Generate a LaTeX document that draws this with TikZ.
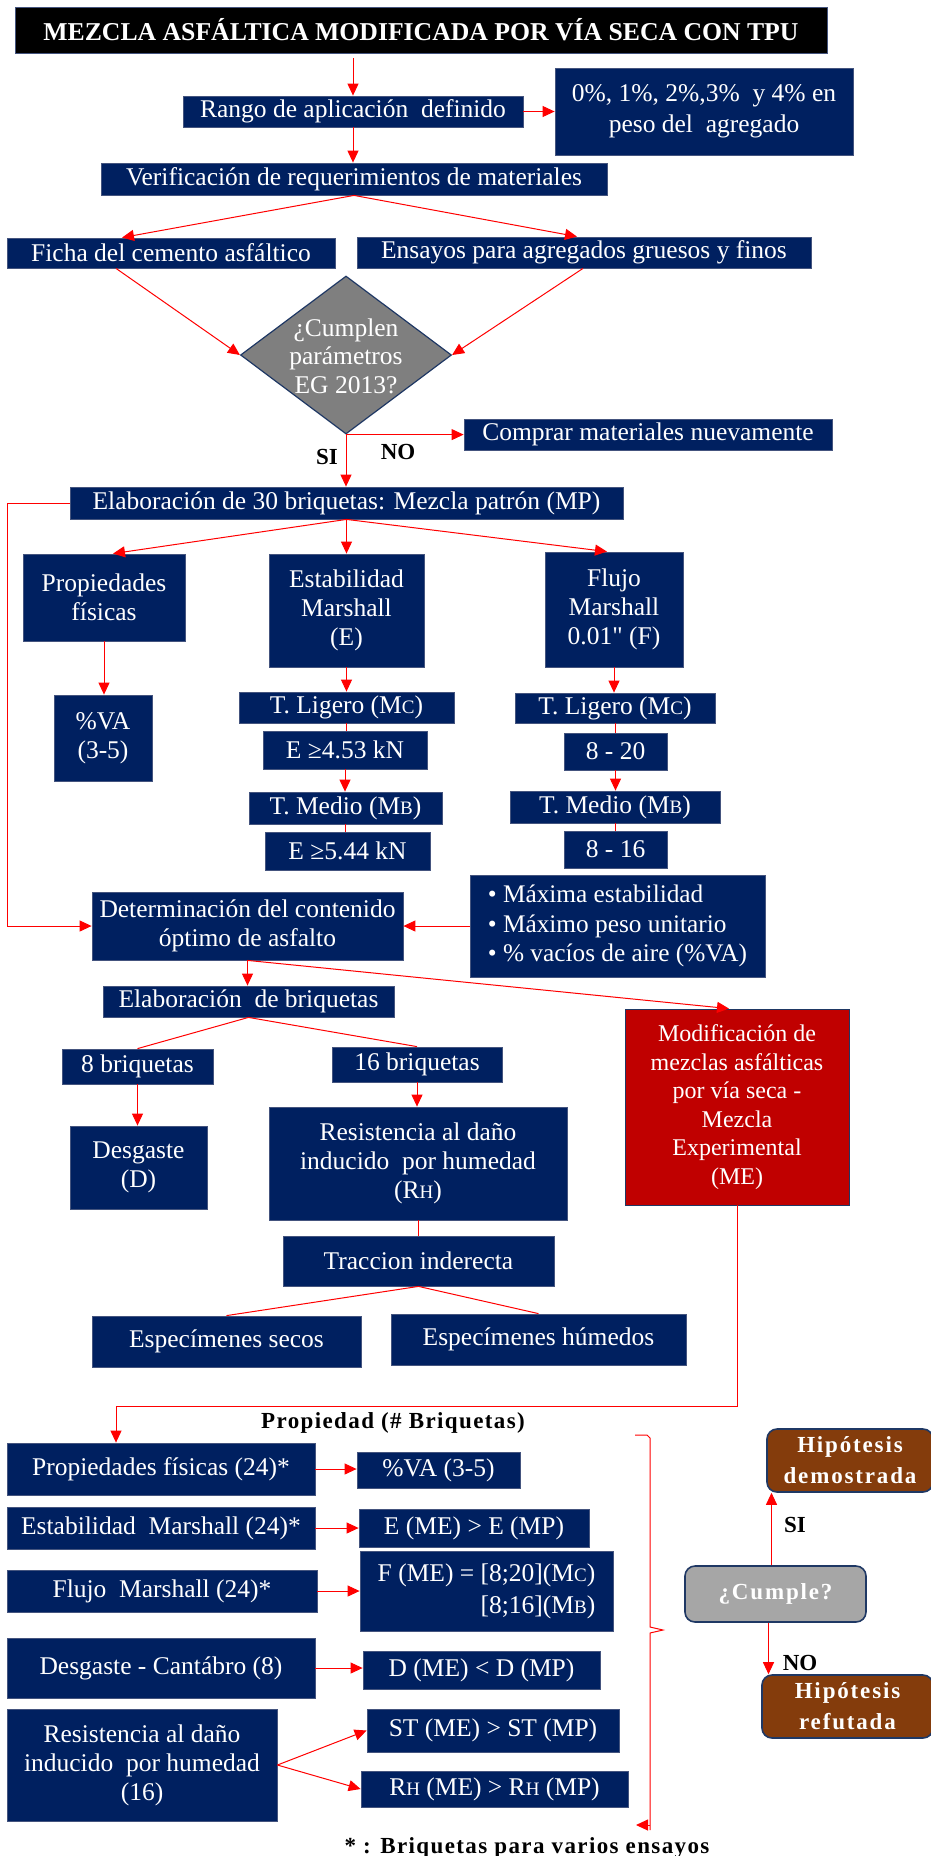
\documentclass[tikz,border=0pt]{standalone}
\usepackage{fontspec}
\setmainfont{Liberation Serif}
\usetikzlibrary{arrows.meta,shapes.geometric}
\definecolor{navy}{HTML}{002060}
\definecolor{navyedge}{HTML}{44547E}
\definecolor{darkedge}{HTML}{1F3864}
\definecolor{redbox}{HTML}{C00000}
\definecolor{brownbox}{HTML}{843C0C}
\definecolor{graybox}{HTML}{A6A6A6}
\definecolor{diagray}{HTML}{7F7F7F}
\definecolor{arrred}{HTML}{FF0000}
\newcommand{\smc}[1]{{\fontsize{19}{19}\selectfont #1}}
\begin{document}
\begin{tikzpicture}[x=1pt,y=-1pt,
  nb/.style={fill=navy,draw=navyedge,line width=0.8pt,text=white,inner sep=0pt,align=center,font=\fontsize{25.5}{29}\selectfont},
  rb/.style={fill=#1,draw=darkedge,line width=1.6pt,rounded corners=10pt,text=white,inner sep=0pt,align=center,font=\fontsize{23}{31}\selectfont\bfseries\addfontfeature{LetterSpace=8}},
  lbl/.style={font=\fontsize{23}{25}\selectfont\bfseries,inner sep=0pt},
  arr/.style={draw=arrred,line width=1pt,-{Triangle[length=12pt,width=11pt]}},
  ln/.style={draw=arrred,line width=1pt}
]
\path[clip] (0,0) rectangle (931,1856);
\fill[white] (0,0) rectangle (931,1856);

% title
\node[fill=black,draw=navyedge,text=white,inner sep=0pt,minimum width=812pt,minimum height=46pt,font=\fontsize{25.7}{28}\selectfont\bfseries] (title) at (421,30) {MEZCLA ASFÁLTICA MODIFICADA POR VÍA SECA CON TPU};

\node[nb,minimum width=340pt,minimum height=31pt] (rango) at (353,111.5) {Rango de aplicación \ definido};
\node[nb,minimum width=298pt,minimum height=87pt,font=\fontsize{25.5}{31}\selectfont] (pct) at (704,111.5) {0\%, 1\%, 2\%,3\% \ y 4\% en\\peso del \ agregado};
\node[nb,minimum width=506pt,minimum height=32pt] (verif) at (354,179) {Verificación de requerimientos de materiales};
\node[nb,minimum width=328pt,minimum height=30pt] (ficha) at (171,253) {Ficha del cemento asfáltico};
\node[nb,minimum width=454pt,minimum height=31pt] (ensayos) at (584,252.5) {Ensayos para agregados gruesos y finos};

\node[diamond,fill=diagray,draw=darkedge,line width=1.2pt,minimum width=211pt,minimum height=158pt,inner sep=0pt] (dia) at (346,355) {};
\node[text=white,align=center,inner sep=0pt,font=\fontsize{25.5}{28.5}\selectfont] (diatext) at (346,356) {¿Cumplen\\parámetros\\EG 2013?};

\node[nb,minimum width=368pt,minimum height=31pt] (comprar) at (648,434.5) {Comprar materiales nuevamente};
\node[lbl] (si1) at (327,457) {SI};
\node[lbl] (no1) at (398,452) {NO};

\node[nb,minimum width=553pt,minimum height=32pt] (elab30) at (346.5,503) {Elaboración de 30 briquetas: Mezcla patrón (MP)};

\node[nb,minimum width=162pt,minimum height=87pt] (prop) at (104,597.5) {Propiedades\\físicas};
\node[nb,minimum width=155pt,minimum height=113pt] (estab) at (346.5,610.5) {Estabilidad\\Marshall\\(E)};
\node[nb,minimum width=138pt,minimum height=115pt] (flujo) at (614,609.5) {Flujo\\Marshall\\0.01\textquotedbl{} (F)};

\node[nb,minimum width=98pt,minimum height=86pt] (va) at (103,738) {\%VA\\(3-5)};
\node[nb,minimum width=215pt,minimum height=31pt] (tlig1) at (346.5,707.5) {T. Ligero (M\smc{C})};
\node[nb,minimum width=164pt,minimum height=38pt] (e453) at (345,750) {E ≥4.53 kN};
\node[nb,minimum width=193pt,minimum height=32pt] (tmed1) at (345.5,808) {T. Medio (M\smc{B})};
\node[nb,minimum width=165pt,minimum height=38pt] (e544) at (347.5,851) {E ≥5.44 kN};

\node[nb,minimum width=200pt,minimum height=30pt] (tlig2) at (615,708) {T. Ligero (M\smc{C})};
\node[nb,minimum width=103pt,minimum height=37pt] (r820) at (615.5,751.5) {8 - 20};
\node[nb,minimum width=210pt,minimum height=32pt] (tmed2) at (615,807) {T. Medio (M\smc{B})};
\node[nb,minimum width=103pt,minimum height=37pt] (r816) at (615.5,849.5) {8 - 16};

\node[nb,minimum width=295pt,minimum height=102pt,align=left,font=\fontsize{25.3}{29.5}\selectfont] (bullets) at (617.5,926) {• Máxima estabilidad\\• Máximo peso unitario\\• \% vacíos de aire (\%VA)};
\node[nb,minimum width=311pt,minimum height=68pt] (determ) at (247.5,926) {Determinación del contenido\\óptimo de asfalto};
\node[nb,minimum width=291pt,minimum height=31pt] (elabbriq) at (248.5,1001.5) {Elaboración \ de briquetas};
\node[nb,fill=redbox,draw=darkedge,minimum width=224pt,minimum height=196pt,font=\fontsize{24}{28.5}\selectfont] (modif) at (737,1107) {Modificación de\\mezclas asfálticas\\por vía seca -\\Mezcla\\Experimental\\(ME)};

\node[nb,minimum width=151pt,minimum height=35pt] (b8) at (137.5,1066.5) {8 briquetas};
\node[nb,minimum width=170pt,minimum height=35pt] (b16) at (417,1064.5) {16 briquetas};
\node[nb,minimum width=137pt,minimum height=83pt] (desg) at (138.5,1167.5) {Desgaste\\(D)};
\node[nb,minimum width=298pt,minimum height=113pt] (resist) at (418,1163.5) {Resistencia al daño\\inducido \ por humedad\\(R\smc{H})};
\node[nb,minimum width=271pt,minimum height=50pt] (tracc) at (418.5,1261) {Traccion inderecta};
\node[nb,minimum width=269pt,minimum height=51pt] (secos) at (226.5,1341.5) {Especímenes secos};
\node[nb,minimum width=295pt,minimum height=51pt] (humedos) at (538.5,1339.5) {Especímenes húmedos};

\node[lbl,font=\fontsize{23}{25}\selectfont\bfseries\addfontfeature{LetterSpace=6}] (propq) at (393,1423) {Propiedad (\# Briquetas)};

\node[nb,minimum width=308pt,minimum height=52pt] (prop24) at (161,1469) {Propiedades físicas (24)*};
\node[nb,minimum width=163pt,minimum height=36pt] (va2) at (438.5,1470) {\%VA (3-5)};
\node[nb,minimum width=308pt,minimum height=42pt] (est24) at (161,1528) {Estabilidad \ Marshall (24)*};
\node[nb,minimum width=230pt,minimum height=38pt] (eme) at (474,1528) {E (ME) > E (MP)};
\node[nb,minimum width=310pt,minimum height=42pt] (flu24) at (162,1591) {Flujo \ Marshall (24)*};
\node[nb,minimum width=253pt,minimum height=80pt,align=right,font=\fontsize{25.5}{32}\selectfont] (fme) at (486.5,1591) {F (ME) = [8;20](M\smc{C})\\{}[8;16](M\smc{B})};
\node[nb,minimum width=308pt,minimum height=60pt] (desg8) at (161,1668) {Desgaste - Cantábro (8)};
\node[nb,minimum width=237pt,minimum height=38pt] (dme) at (481.5,1670) {D (ME) < D (MP)};
\node[nb,minimum width=270pt,minimum height=112pt] (res16) at (142,1765) {Resistencia al daño\\inducido \ por humedad\\(16)};
\node[nb,minimum width=252pt,minimum height=43pt] (st) at (493,1730.5) {ST (ME) > ST (MP)};
\node[nb,minimum width=267pt,minimum height=36pt] (rh) at (494.5,1789) {R\smc{H} (ME) > R\smc{H} (MP)};

\node[rb=brownbox,minimum width=166pt,minimum height=63pt] (demos) at (850,1460.5) {Hipótesis\\demostrada};
\node[rb=graybox,minimum width=181pt,minimum height=56pt] (cumple) at (775.5,1594) {¿Cumple?};
\node[rb=brownbox,minimum width=171pt,minimum height=63pt] (refut) at (847.5,1706.5) {Hipótesis\\refutada};
\node[lbl] (si2) at (795,1525) {SI};
\node[lbl] (no2) at (800,1663) {NO};

\node[lbl,anchor=base,font=\fontsize{23}{25}\selectfont\bfseries\addfontfeature{LetterSpace=6}] (foot) at (527,1853) {* : Briquetas para varios ensayos};

% connectors
\draw[arr,shorten <=5pt] (rango.north |- title.south) -- (rango.north);
\draw[arr] (rango.east) -- (pct.west);
\draw[arr] (rango.south) -- (rango.south |- verif.north);
\draw[arr] (verif.south) -- ([xshift=-49pt]ficha.north);
\draw[arr] (verif.south) -- ([xshift=-7pt]ensayos.north);
\draw[arr] ([xshift=-55pt]ficha.south) -- (dia.west);
\draw[arr] ([xshift=-1pt]ensayos.south) -- (dia.east);
\draw[arr] (dia.south) -- (dia.south -| comprar.west);
\draw[arr] (dia.south) -- (dia.south |- elab30.north);
\draw[arr] (elab30.west) -- ++(-62,0) |- (determ.west);
\draw[arr] (elab30.south) -- ([xshift=9pt]prop.north);
\draw[arr] (elab30.south) -- (elab30.south |- estab.north);
\draw[arr] (elab30.south) -- ([xshift=-7pt]flujo.north);
\draw[arr] (prop.south) -- (prop.south |- va.north);
\draw[arr] (estab.south) -- (estab.south |- tlig1.north);
\draw[ln] (tlig1.south) -- (tlig1.south |- e453.north);
\draw[arr] (e453.south) -- (e453.south |- tmed1.north);
\draw[ln] (tmed1.south) -- (tmed1.south |- e544.north);
\draw[arr] (flujo.south) -- (flujo.south |- tlig2.north);
\draw[ln] (tlig2.south) -- (tlig2.south |- r820.north);
\draw[arr] (r820.south) -- (r820.south |- tmed2.north);
\draw[ln] (tmed2.south) -- (tmed2.south |- r816.north);
\draw[arr] (bullets.west) -- (determ.east);
\draw[arr] (determ.south) -- (determ.south |- elabbriq.north);
\draw[arr] (determ.south) -- ([xshift=-8pt]modif.north);
\draw[ln] (elabbriq.south) -- (b8.north);
\draw[ln] (elabbriq.south) -- (b16.north);
\draw[arr] (b8.south) -- (b8.south |- desg.north);
\draw[arr] (b16.south) -- (b16.south |- resist.north);
\draw[ln] (resist.south) -- (resist.south |- tracc.north);
\draw[ln] (tracc.south) -- (secos.north);
\draw[ln] (tracc.south) -- (humedos.north);
\draw[arr] (modif.south) -- ++(0,201) -| ([xshift=-45pt]prop24.north);
\draw[arr] (prop24.east) -- (prop24.east -| va2.west);
\draw[arr] (est24.east) -- (est24.east -| eme.west);
\draw[arr] (flu24.east) -- (flu24.east -| fme.west);
\draw[arr] (desg8.east) -- (desg8.east -| dme.west);
\draw[arr] (res16.east) -- (st.west);
\draw[arr] (res16.east) -- (rh.west);
\draw[arr] ([xshift=-4pt]cumple.north) -- ([xshift=-4pt]cumple.north |- demos.south);
\draw[arr] ([xshift=-7pt]cumple.south) -- ([xshift=-7pt]cumple.south |- refut.north);

% brace
\draw[ln] (635,1435) -- (647,1435) -- (650,1438) -- (650,1627) -- (663,1630) -- (650,1633) -- (650,1830);
\draw[arr] (650,1825) -- (636,1825);
\end{tikzpicture}
\end{document}
